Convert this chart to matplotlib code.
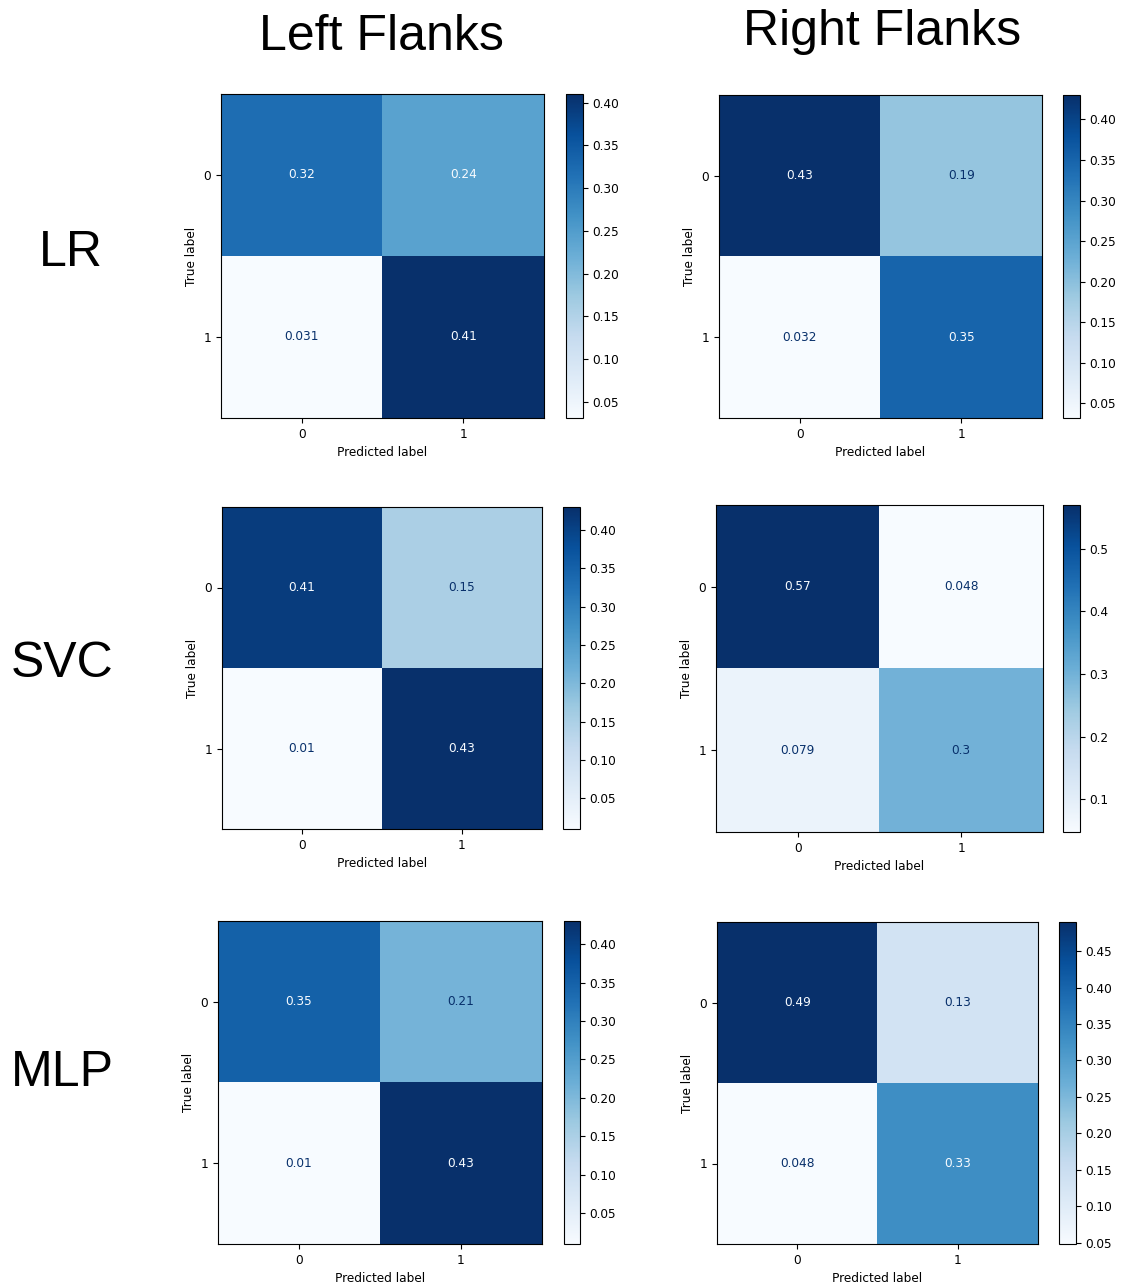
import matplotlib
matplotlib.use('Agg')

from matplotlib import pyplot as plt
import numpy as np

# normalized confusion matrices, rows = true label, cols = predicted label
models = ["LR", "SVC", "MLP"]
sides = ["Left Flanks", "Right Flanks"]
class_labels = ["0", "1"]

lr_left = [[0.32, 0.24], [0.031, 0.41]]
lr_right = [[0.43, 0.19], [0.032, 0.35]]
svc_left = [[0.41, 0.15], [0.01, 0.43]]
svc_right = [[0.57, 0.048], [0.079, 0.3]]
mlp_left = [[0.35, 0.21], [0.01, 0.43]]
mlp_right = [[0.49, 0.13], [0.048, 0.33]]

matrices = [[lr_left, lr_right], [svc_left, svc_right], [mlp_left, mlp_right]]

W, H = 1122, 1283

# pixel boxes (left, top, right, bottom) for each matrix and its colorbar (x0, x1)
mat_boxes = [[(221, 94, 544, 418), (719, 95, 1042, 418)],
             [(222, 507, 542, 829), (716, 505, 1043, 832)],
             [(218, 921, 542, 1244), (717, 922, 1038, 1244)]]
cbar_x = [[(566, 583), (1063, 1080)],
          [(563, 580), (1063, 1080)],
          [(564, 580), (1059, 1076)]]
title_pos = [(381, 37), (882, 32)]
row_label_pos = [(71, 253), (62, 664), (62, 1073)]

small_fs = 8.7


def px_rect(x0, y0, x1, y1):
    return [x0 / W, 1 - y1 / H, (x1 - x0) / W, (y1 - y0) / H]


def plot_cm(fig, cm, box, cbx):
    cm = np.array(cm)
    ax = fig.add_axes(px_rect(*box))
    cax = fig.add_axes(px_rect(cbx[0], box[1], cbx[1], box[3]))
    im = ax.imshow(cm, interpolation='nearest', cmap='Blues', aspect='auto')
    cmap_min, cmap_max = im.cmap(0), im.cmap(1.0)
    thresh = (cm.max() + cm.min()) / 2.0
    for i in range(cm.shape[0]):
        for j in range(cm.shape[1]):
            color = cmap_max if cm[i, j] < thresh else cmap_min
            ax.text(j, i, format(cm[i, j], ".2g"), ha="center", va="center",
                    color=color, fontsize=small_fs)
    ax.set_xticks(range(len(class_labels)))
    ax.set_yticks(range(len(class_labels)))
    ax.set_xticklabels(class_labels)
    ax.set_yticklabels(class_labels)
    ax.tick_params(labelsize=small_fs)
    ax.set_xlabel("Predicted label", fontsize=small_fs)
    ax.set_ylabel("True label", fontsize=small_fs)
    cb = fig.colorbar(im, cax=cax)
    cb.ax.tick_params(labelsize=small_fs)
    return ax


fig = plt.figure(figsize=(W / 100, H / 100), dpi=100)

for r in range(len(models)):
    for c in range(len(sides)):
        plot_cm(fig, matrices[r][c], mat_boxes[r][c], cbar_x[r][c])

for side, (x, y) in zip(sides, title_pos):
    fig.text(x / W, 1 - y / H, side, ha="center", va="center",
             fontsize=36, family="Liberation Sans")

for name, (x, y) in zip(models, row_label_pos):
    fig.text(x / W, 1 - y / H, name, ha="center", va="center",
             fontsize=36, family="Liberation Sans")

fig.savefig("out.png", dpi=100)
plt.close(fig)
